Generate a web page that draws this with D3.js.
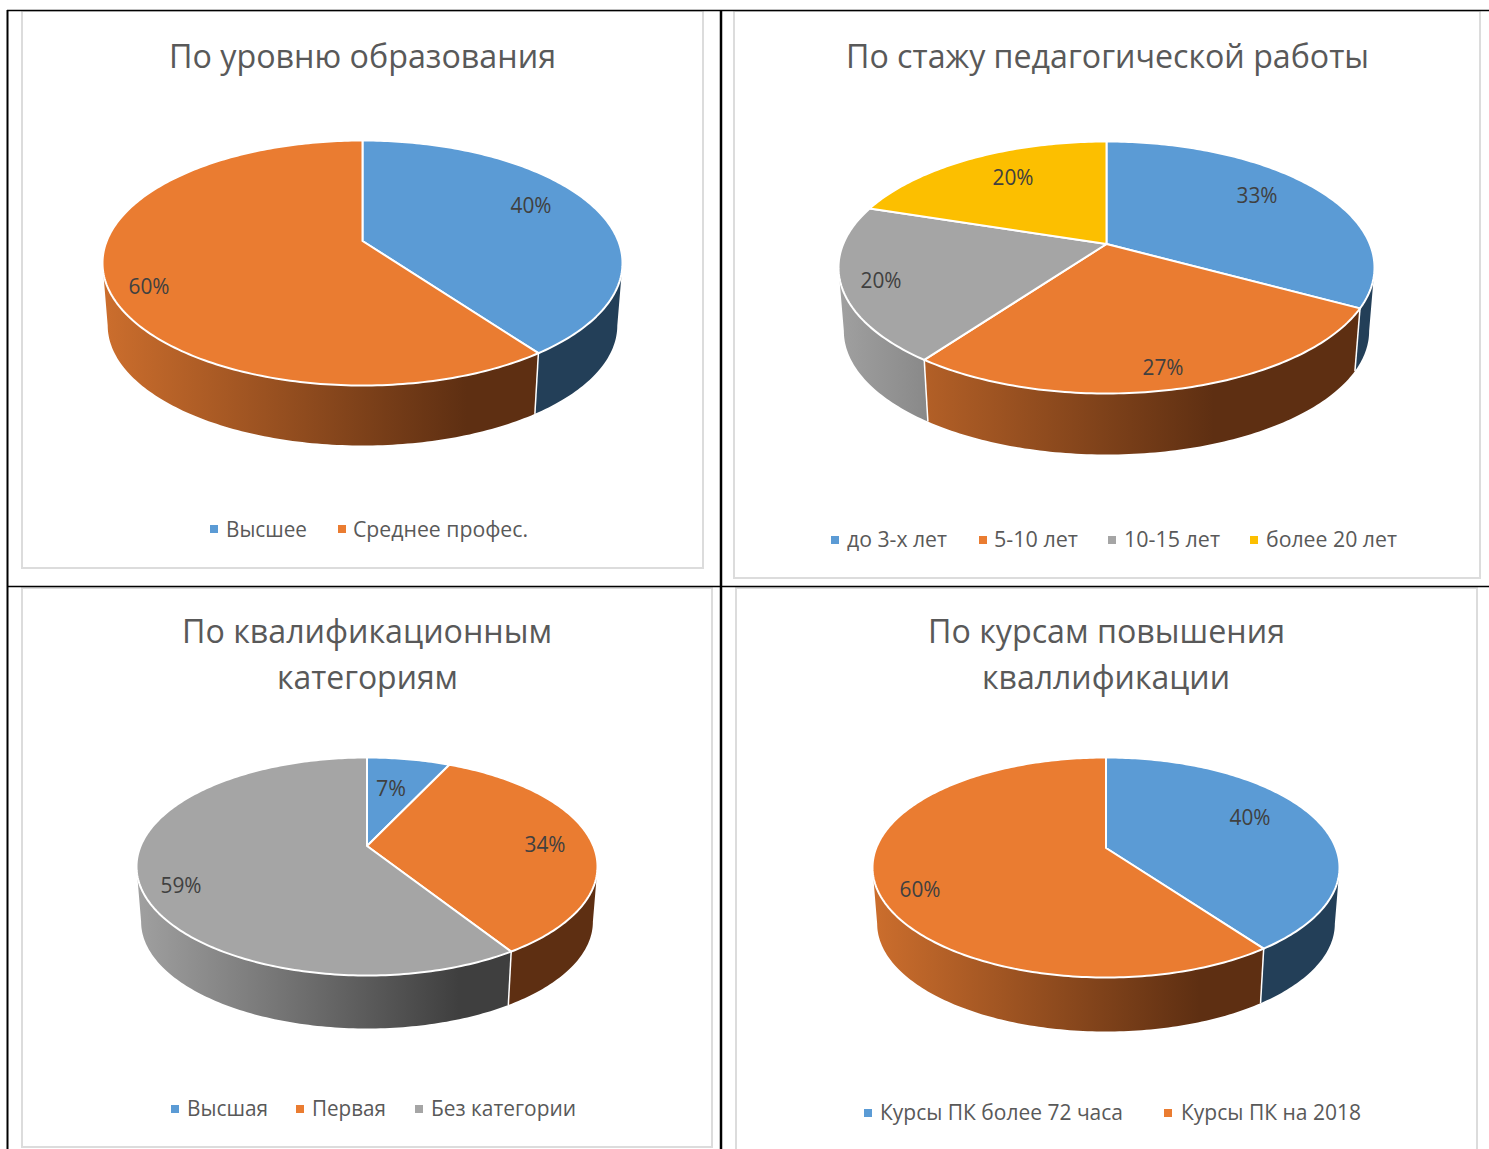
<!DOCTYPE html>
<html><head><meta charset="utf-8">
<script src="https://cdn.jsdelivr.net/npm/d3@7"></script>
<style>html,body{margin:0;padding:0;background:#fff}svg{display:block}text{font-family:"Open Sans",sans-serif}</style>
</head><body><svg id="c" width="1489" height="1149"></svg>
<script>
const titles1=["По уровню образования"];
const titles2=["По стажу педагогической работы"];
const titles3=["По квалификационным","категориям"];
const titles4=["По курсам повышения","кваллификации"];
const cats1=["Высшее","Среднее профес."];
const cats2=["до 3-х лет","5-10 лет","10-15 лет","более 20 лет"];
const cats3=["Высшая","Первая","Без категории"];
const cats4=["Курсы ПК более 72 часа","Курсы ПК на 2018"];
const vals1=[40,60];
const vals2=[33,27,20,20];
const vals3=[7,34,59];
const vals4=[40,60];
const colors=["#5b9bd5","#ea7c31","#a5a5a5","#fcbf00"];
const wallStops=[["#233f58","#233f58"],["#cc6e2d","#5e2f12"],["#a0a0a0","#3f3f3f"],["#c09000","#7f6000"]];

const layouts=[
 {titles:titles1,cats:cats1,vals:vals1,panel:[22,11,703,568],tw:[[169,556]],ty:[68],cx:362.5,cy:263,rx:260,ry:122.5,off:22,bottom:445.5,
  lab:[[531,205],[149,286]],legY:529,legD:7.5,sw:[210,338],lx:[[226,307],[353,528]]},
 {titles:titles2,cats:cats2,vals:vals2,panel:[734,11,1480,578],tw:[[846,1369]],ty:[68],cx:1106.5,cy:267.5,rx:268,ry:126,off:23.5,bottom:454.5,
  lab:[[1257,195],[1163,367],[881,280],[1013,177]],legY:540,legD:6.5,sw:[831,979,1108,1250],lx:[[847,947],[994,1078],[1124,1220],[1266,1397]]},
 {titles:titles3,cats:cats3,vals:vals3,panel:[22,588,712,1147],tw:[[182,552],[277,458]],ty:[643,689],cx:367,cy:866.5,rx:230.5,ry:109,off:20.5,bottom:1028.5,
  lab:[[391,788],[545,844],[181,885]],legY:1109,legD:6.5,sw:[171,296,415],lx:[[187,268],[312,386],[431,576]]},
 {titles:titles4,cats:cats4,vals:vals4,panel:[736,588,1477,1160],tw:[[928,1285],[982,1230]],ty:[643,689],cx:1106,cy:867.5,rx:233.5,ry:110,off:19.5,bottom:1031.5,
  lab:[[1250,817],[920,889]],legY:1113,legD:6.5,sw:[864,1164],lx:[[880,1123],[1181,1361]]}
];

const svg=d3.select("#c");
const defs=svg.append("defs");
svg.append("rect").attr("width",1489).attr("height",1149).attr("fill","#fff");

const line=d3.line();
const rimScale=0.98;

layouts.forEach((L,li)=>{
  const [px0,py0,px1,py1]=L.panel;
  svg.append("rect").attr("x",px0).attr("y",py0).attr("width",px1-px0).attr("height",py1-py0)
    .attr("fill","#fff").attr("stroke","#dcdcdc").attr("stroke-width",2);

  L.titles.forEach((t,i)=>{
    svg.append("text").text(t).attr("x",L.tw[i][0]).attr("y",L.ty[i])
      .attr("font-size",33).attr("fill","#595959")
      .attr("textLength",L.tw[i][1]-L.tw[i][0]).attr("lengthAdjust","spacingAndGlyphs");
  });

  // projective map of the unit disc onto the tilted pie
  const c=-L.off/L.ry, kx=L.rx*Math.sqrt(1-c*c);
  const top=(a,r=1)=>{
    const u=Math.sin(a)*r, v=-Math.cos(a)*r, w=1+c*v;
    return [L.cx+kx*u/w, L.cy+(L.ry*v-L.off)/w];
  };
  const d=L.bottom-L.cy-rimScale*L.ry;
  // the near rim recedes more strongly towards the sides
  const low=a=>{
    const p=top(a);
    const lift=3*(1-Math.abs(p[0]-L.cx)/L.rx>0.5?0:1);
    return [L.cx+(p[0]-L.cx)*rimScale, L.cy+(p[1]-L.cy)*rimScale+d-lift*0];
  };
  const arcPts=(a0,a1,fn)=>{
    const n=Math.max(2,Math.ceil(Math.abs(a1-a0)*60));
    const s=d3.scaleLinear().domain([0,n]).range([a0,a1]);
    return d3.range(n+1).map(i=>fn(s(i)));
  };

  const arcs=d3.pie().sort(null).value(v=>v)(L.vals);

  colors.forEach((col,ci)=>{
    const g=defs.append("linearGradient").attr("id",`w${li}_${ci}`)
      .attr("gradientUnits","userSpaceOnUse")
      .attr("x1",L.cx-L.rx).attr("x2",L.cx+L.rx).attr("y1",0).attr("y2",0);
    g.append("stop").attr("offset",0).attr("stop-color",wallStops[ci][0]);
    g.append("stop").attr("offset",0.7).attr("stop-color",wallStops[ci][1]);
  });

  // visible wall: between the two silhouette points of the rim
  const phi=Math.acos(c);
  const visA=phi, visB=2*Math.PI-phi;
  arcs.forEach((s,i)=>{
    const a0=Math.max(s.startAngle,visA), a1=Math.min(s.endAngle,visB);
    if(a1<=a0) return;
    const pts=arcPts(a0,a1,top).concat(arcPts(a1,a0,low));
    svg.append("path").attr("d",line(pts)+"Z").attr("fill",`url(#w${li}_${i})`);
  });
  arcs.forEach(s=>{
    const a=s.startAngle;
    if(a>visA&&a<visB){
      svg.append("path").attr("d",line([top(a),low(a)]))
        .attr("stroke","#fff").attr("stroke-width",1.5).attr("fill","none");
    }
  });

  // top face
  arcs.forEach((s,i)=>{
    const pts=[top(0,0)].concat(arcPts(s.startAngle,s.endAngle,top));
    svg.append("path").attr("d",line(pts)+"Z").attr("fill",colors[i])
      .attr("stroke","#fff").attr("stroke-width",2).attr("stroke-linejoin","round");
  });

  // data labels
  arcs.forEach((s,i)=>{
    svg.append("text").text(`${s.data}%`).attr("x",L.lab[i][0]).attr("y",L.lab[i][1]+8)
      .attr("text-anchor","middle").attr("font-size",21).attr("fill","#404040")
      .attr("textLength",s.data<10?30:41).attr("lengthAdjust","spacingAndGlyphs");
  });

  // legend
  L.cats.forEach((t,i)=>{
    svg.append("rect").attr("x",L.sw[i]).attr("y",L.legY-4).attr("width",8).attr("height",8).attr("fill",colors[i]);
    svg.append("text").text(t).attr("x",L.lx[i][0]).attr("y",L.legY+L.legD)
      .attr("font-size",21).attr("fill","#595959")
      .attr("textLength",L.lx[i][1]-L.lx[i][0]).attr("lengthAdjust","spacingAndGlyphs");
  });
});

// table frame
const frame=[[7,10.5,1489,10.5,1.5],[7.5,10,7.5,1149,2],[721,10,721,1149,2.5],[7,586.5,1489,586.5,1.5]];
frame.forEach(f=>svg.append("line").attr("x1",f[0]).attr("y1",f[1]).attr("x2",f[2]).attr("y2",f[3])
  .attr("stroke","#000").attr("stroke-width",f[4]));
</script></body></html>
